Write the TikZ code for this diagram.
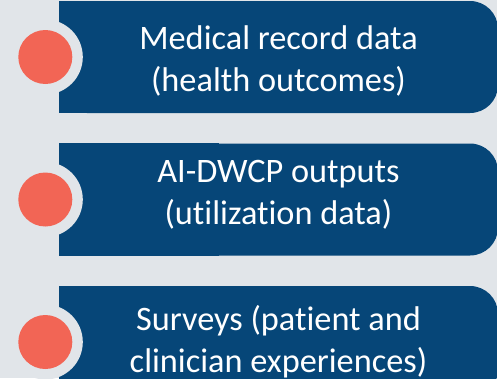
\documentclass[tikz,border=0pt]{standalone}
\usepackage{fontspec}
\setmainfont{Carlito}[Ligatures=NoCommon]
\usepackage{tikz}

\definecolor{bggray}{RGB}{225,229,233}
\definecolor{cardblue}{RGB}{6,70,120}
\definecolor{dotred}{RGB}{242,101,85}

\begin{document}
\begin{tikzpicture}[x=1pt,y=-1pt,
    card/.style={rectangle, fill=cardblue, rounded corners=28pt, minimum width=439pt, minimum height=112pt},
    cardtext/.style={text=white, align=center, inner sep=0pt, font=\fontsize{34.3}{42}\selectfont},
    notch/.style={circle, fill=bggray, minimum size=75pt, inner sep=0pt},
    dot/.style={circle, fill=dotred, minimum size=54pt, inner sep=0pt}]

    % Background and frame of the picture
    \fill[bggray] (0,0) rectangle (497,378);
    \useasboundingbox (0,0) rectangle (497,378);
    \clip (0,0) rectangle (497,378);

    % The three cards (rounded only on the right)
    \node[card] (medical) at (278.5,57) {};
    \fill[cardblue] (medical.north west) rectangle ([xshift=-60pt]medical.south);
    \node[card] (outputs) at (278.5,199.5) {};
    \fill[cardblue] (outputs.north west) rectangle ([xshift=-60pt]outputs.south);
    \node[card] (surveys) at (278.5,342) {};
    \fill[cardblue] (surveys.north west) rectangle ([xshift=-60pt]surveys.south);

    % Texts of the cards
    \node[cardtext] (medicaltext) at ([yshift=-3.5pt]medical) {Medical record data\\(health outcomes)};
    \node[cardtext] (outputstext) at ([yshift=5pt]outputs) {AI-DWCP outputs\\(utilization data)};
    \node[cardtext] (surveystext) at ([yshift=0.5pt]surveys) {Surveys (patient and\\clinician experiences)};

    % Notches cut into the left edge, with the red dots inside
    \node[notch] (medicalnotch) at ([xshift=-13.5pt]medical.west) {};
    \node[dot] (medicaldot) at (medicalnotch) {};
    \node[notch] (outputsnotch) at ([xshift=-13.5pt]outputs.west) {};
    \node[dot] (outputsdot) at (outputsnotch) {};
    \node[notch] (surveysnotch) at ([xshift=-13.5pt]surveys.west) {};
    \node[dot] (surveysdot) at (surveysnotch) {};
\end{tikzpicture}
\end{document}
